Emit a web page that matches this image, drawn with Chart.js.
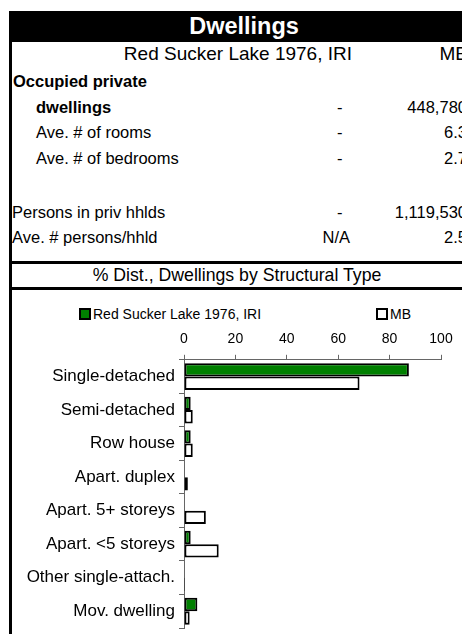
<!DOCTYPE html>
<html>
<head>
<meta charset="utf-8">
<script src="https://cdn.jsdelivr.net/npm/chart.js@4"></script>
<style>
  body { margin: 0; width: 462px; height: 634px; overflow: hidden; background: #fff; font-family: Arial, "Liberation Sans", sans-serif; position: relative; }
  .t { position: absolute; font-size: 16.5px; line-height: 20px; white-space: nowrap; color: #000; }
  .b { font-weight: bold; }
  .r { text-align: right; }
  #title { position: absolute; left: 9px; top: 11px; width: 470px; height: 31px; background: #000; color: #fff; font-weight: bold; font-size: 23.5px; line-height: 31px; text-align: center; }
  .vline { position: absolute; left: 9px; top: 42px; width: 3px; height: 600px; background: #000; }
  .hline { position: absolute; left: 9px; width: 470px; height: 3px; background: #000; }
  .leg { position: absolute; font-size: 14px; line-height: 16px; white-space: nowrap; }
  .sw { display: inline-block; width: 8px; height: 8px; border: 2px solid #000; vertical-align: -1px; margin-right: 2px; }
  #wrap { position: absolute; left: 12px; top: 290px; width: 450px; height: 344px; }
</style>
</head>
<body>
<div id="title">Dwellings</div>
<div class="vline"></div>
<div class="hline" style="top:261px"></div>
<div class="hline" style="top:287px"></div>

<div class="t r" style="right:110px;top:43px;font-size:19px;line-height:22px">Red Sucker Lake 1976, IRI</div>
<div class="t r" style="right:-6px;top:43px;font-size:19px;line-height:22px">MB</div>
<div class="t b" style="left:13px;top:71px">Occupied private</div>
<div class="t b" style="left:36px;top:97px">dwellings</div>
<div class="t" style="left:36px;top:122px">Ave. # of rooms</div>
<div class="t" style="left:36px;top:148px">Ave. # of bedrooms</div>
<div class="t" style="left:12px;top:202px">Persons in priv hhlds</div>
<div class="t" style="left:12px;top:227px">Ave. # persons/hhld</div>
<div id="cells"></div>
<div class="t" style="left:12px;width:450px;text-align:center;top:265px;font-size:17.7px">% Dist., Dwellings by Structural Type</div>

<div class="leg" style="left:79px;top:306px"><span class="sw" style="background:#008000"></span>Red Sucker Lake 1976, IRI</div>
<div class="leg" style="left:376px;top:306px"><span class="sw" style="background:#fff"></span>MB</div>

<div id="wrap"><canvas id="chart"></canvas></div>

<script>
// table rows: [top, middle column, right column]
const tableRows = [
  [97, '-', '448,780'],
  [122, '-', '6.3'],
  [148, '-', '2.7'],
  [202, '-', '1,119,530'],
  [227, 'N/A', '2.5']
];

const categories = ['Single-detached', 'Semi-detached', 'Row house', 'Apart. duplex',
  'Apart. 5+ storeys', 'Apart. <5 storeys', 'Other single-attach.', 'Mov. dwelling'];
const localValues = [87.5, 2.6, 2.6, 0, 0, 2.6, 0, 5.2];
const mbValues = [68.3, 3.4, 3.4, 1.5, 8.5, 13.5, 0.4, 2.2];
const xTicks = [0, 20, 40, 60, 80, 100];

const cells = document.getElementById('cells');
tableRows.forEach(([top, mid, val]) => {
  const m = document.createElement('div');
  m.className = 't';
  m.style.top = top + 'px';
  if (mid === '-') { m.style.left = '337px'; } else { m.style.right = '112px'; }
  m.textContent = mid;
  cells.appendChild(m);
  const v = document.createElement('div');
  v.className = 't r';
  v.style.top = top + 'px';
  v.style.right = '-5px';
  v.textContent = val;
  cells.appendChild(v);
});

new Chart(document.getElementById('chart'), {
  type: 'bar',
  data: {
    labels: categories,
    datasets: [{
      label: 'Red Sucker Lake 1976, IRI',
      data: localValues,
      backgroundColor: '#008000',
      borderColor: '#000',
      borderWidth: 2,
      borderSkipped: false
    }, {
      label: 'MB',
      data: mbValues,
      backgroundColor: '#fff',
      borderColor: '#000',
      borderWidth: 2,
      borderSkipped: false
    }]
  },
  options: {
    indexAxis: 'y',
    responsive: true,
    maintainAspectRatio: false,
    animation: false,
    layout: { padding: { top: 34, right: 21, bottom: 6, left: 0 } },
    plugins: { legend: { display: false }, tooltip: { enabled: false } },
    datasets: { bar: { categoryPercentage: 0.8, barPercentage: 1.0 } },
    scales: {
      x: {
        position: 'top',
        min: 0, max: 100,
        afterBuildTicks: s => { s.ticks = xTicks.map(v => ({ value: v })); },
        ticks: { color: '#000', font: { family: 'Arial, "Liberation Sans"', size: 14 }, padding: 7 },
        grid: { drawOnChartArea: false, color: '#666', tickLength: 5 },
        border: { color: '#666', width: 1 }
      },
      y: {
        afterFit: s => { s.width = 172; s.paddingTop = 0; s.paddingBottom = 0; },
        ticks: { color: '#000', font: { family: 'Arial, "Liberation Sans"', size: 17 }, padding: 4 },
        grid: { drawOnChartArea: false, color: '#666', tickLength: 5 },
        border: { color: '#666', width: 1 }
      }
    }
  }
});
</script>
</body>
</html>
